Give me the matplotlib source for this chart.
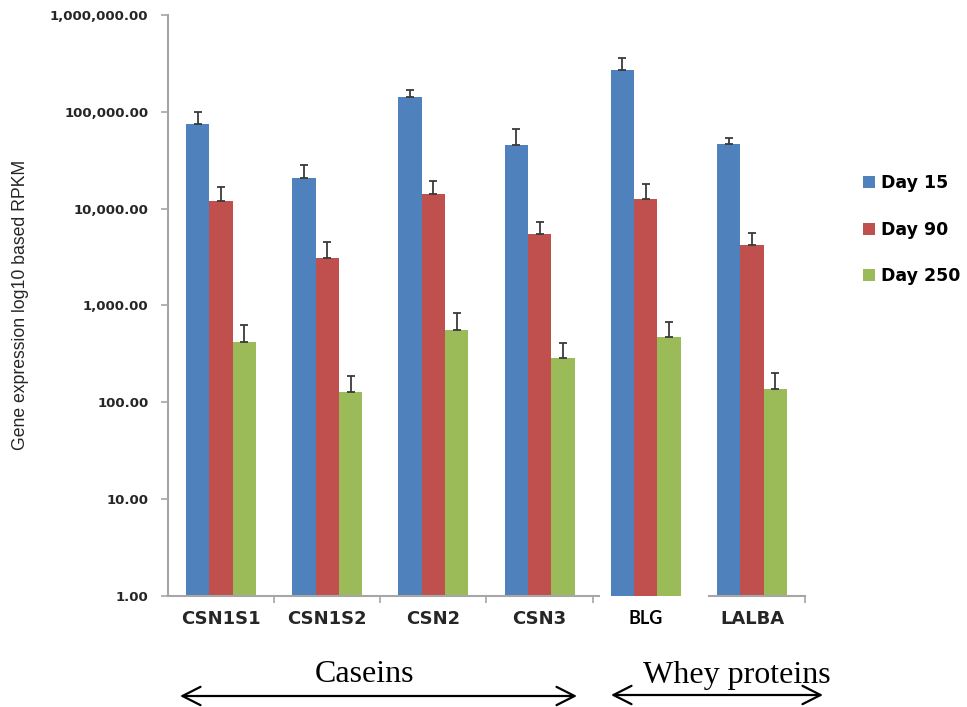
import numpy as np
import matplotlib
matplotlib.use("Agg")
import matplotlib.pyplot as plt
from matplotlib.ticker import FuncFormatter, NullLocator, FixedLocator

genes = ["CSN1S1", "CSN1S2", "CSN2", "CSN3", "BLG", "LALBA"]
series = ["Day 15", "Day 90", "Day 250"]

day15 = [75200, 20900, 142900, 45900, 270000, 46700]
day15_err = [24500, 7400, 24600, 20300, 91000, 7600]
day90 = [12000, 3100, 14100, 5450, 12700, 4230]
day90_err = [4700, 1450, 5100, 1900, 5200, 1350]
day250 = [424, 127, 560, 285, 470, 136]
day250_err = [206, 59, 285, 123, 212, 65]

colors = ["#4F81BD", "#C0504D", "#9BBB59"]
axis_grey = "#A6A6A6"

fig = plt.figure(figsize=(9.67, 7.07), dpi=100)
ax = fig.add_axes([0.1737, 0.157, 0.6588, 0.8218])

x = np.arange(len(genes))
width = 0.22
values = [day15, day90, day250]
errors = [day15_err, day90_err, day250_err]
for i, (vals, errs) in enumerate(zip(values, errors)):
    pos = x + (i - 1) * width
    ax.bar(pos, vals, width, color=colors[i], label=series[i], zorder=2)
    # only the upper half of each error bar is shown
    ax.errorbar(pos, vals, yerr=[np.zeros(len(errs)), errs], fmt="none",
                ecolor="#3A3A3A", elinewidth=1.3, capsize=3, capthick=1.3, zorder=3)

ax.set_yscale("log")
ax.set_ylim(1, 1e6)
ax.set_xlim(-0.5, 5.5)
ax.yaxis.set_major_locator(FixedLocator([1, 10, 100, 1e3, 1e4, 1e5, 1e6]))
ax.yaxis.set_minor_locator(NullLocator())
ax.yaxis.set_major_formatter(FuncFormatter(lambda v, p: f"{v:,.2f}"))
for lbl in ax.get_yticklabels():
    lbl.set_fontfamily("DejaVu Sans")
    lbl.set_fontweight("bold")
    lbl.set_fontsize(9.5)
    lbl.set_color("#262626")
ax.tick_params(axis="y", length=5, width=1.2, color=axis_grey, pad=9)

ax.set_xticks(x)
ax.set_xticklabels(genes)
ax.set_xticks([0.5, 1.5, 2.5, 3.5, 5.5], minor=True)
ax.tick_params(axis="x", which="major", length=0, pad=10)
ax.tick_params(axis="x", which="minor", length=5, width=1.2, color=axis_grey)
for lbl in ax.get_xticklabels():
    if lbl.get_text() == "BLG":
        lbl.set_fontfamily("Lato")
        lbl.set_fontsize(13)
        lbl.set_color("black")
    else:
        lbl.set_fontfamily("DejaVu Sans")
        lbl.set_fontsize(13)
        lbl.set_color("#262626")
    lbl.set_fontweight("bold")

for side in ["top", "right", "bottom"]:
    ax.spines[side].set_visible(False)
ax.spines["left"].set_color(axis_grey)
ax.spines["left"].set_linewidth(1.5)
# bottom axis line, broken under the BLG group
ax.axhline(1, xmin=0, xmax=(3.56 + 0.5) / 6, color=axis_grey, lw=1.5, clip_on=False)
ax.axhline(1, xmin=(4.60 + 0.5) / 6, xmax=1, color=axis_grey, lw=1.5, clip_on=False)

fig.text(0.021, 0.569, "Gene expression log10 based RPKM", rotation=90,
         ha="center", va="center", fontsize=12.7, family="Liberation Sans", color="#262626")

fig.legend(loc="center left", bbox_to_anchor=(0.892, 0.675), frameon=False,
           prop={"family": "DejaVu Sans", "weight": "bold", "size": 12.5},
           handlelength=0.7, handleheight=0.7, handletextpad=0.35,
           labelspacing=1.65, borderpad=0, borderaxespad=0)

# group brackets below the axis
fig.text(365 / 967, 1 - 675 / 707, "Caseins", ha="center", va="center",
         fontsize=23, family="Liberation Serif")
fig.text(737 / 967, 1 - 675 / 707, "Whey proteins", ha="center", va="center",
         fontsize=23, family="Liberation Serif")
arrow = dict(arrowstyle="<->,head_length=0.65,head_width=0.33", lw=1.6,
             color="black", mutation_scale=20, shrinkA=0, shrinkB=0)
fig.patches.append(matplotlib.patches.FancyArrowPatch(
    (180 / 967, 1 - 696 / 707), (577 / 967, 1 - 696 / 707),
    transform=fig.transFigure, **arrow))
fig.patches.append(matplotlib.patches.FancyArrowPatch(
    (611 / 967, 1 - 695 / 707), (823 / 967, 1 - 695 / 707),
    transform=fig.transFigure, **arrow))

fig.savefig("out.png", dpi=100)
